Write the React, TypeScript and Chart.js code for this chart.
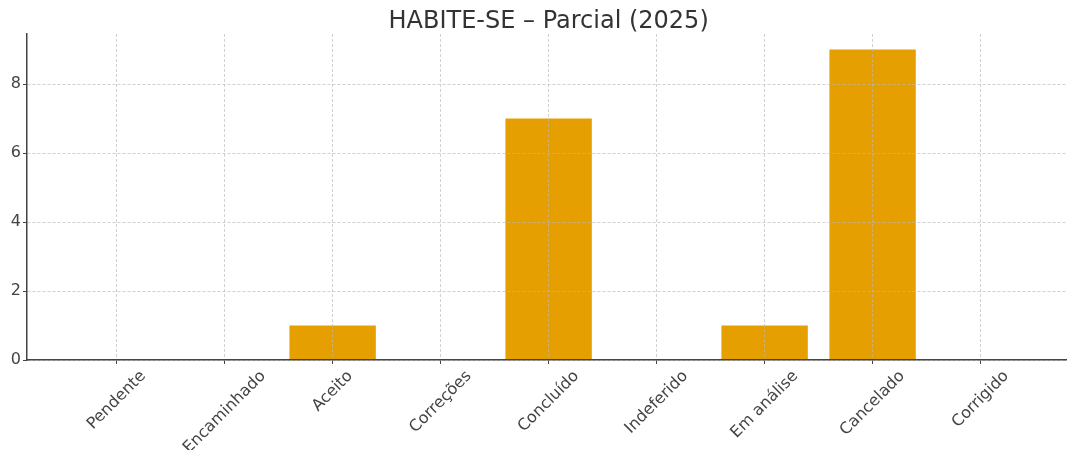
import React, { useEffect, useRef } from 'react';
import { Chart, registerables } from 'chart.js';

Chart.register(...registerables);

const TITLE = 'HABITE-SE – Parcial (2025)';
const categories = ['Pendente', 'Encaminhado', 'Aceito', 'Correções', 'Concluído', 'Indeferido', 'Em análise', 'Cancelado', 'Corrigido'];
const counts = [0, 0, 1, 0, 7, 0, 1, 9, 0];
const yTicks = [0, 2, 4, 6, 8];

const FONT = '"DejaVu Sans", sans-serif';

export default function App() {
  const ref = useRef<HTMLCanvasElement>(null);

  useEffect(() => {
    if (!ref.current) return;
    const labelPlugin = {
      id: 'mplLabels',
      afterDraw(chart: any) {
        const ctx = chart.ctx as CanvasRenderingContext2D;
        const xs = chart.scales.x;
        const bottom = chart.chartArea.bottom;
        ctx.save();
        ctx.fillStyle = '#444';
        ctx.font = `16px ${FONT}`;
        ctx.textAlign = 'center';
        ctx.textBaseline = 'middle';
        categories.forEach((c, i) => {
          const w = ctx.measureText(c).width;
          const h = 16 * 1.164;
          const bh = (w + h) * Math.SQRT1_2;
          const cx = xs.getPixelForValue(i);
          const cy = bottom + 7 + bh / 2;
          ctx.save();
          ctx.translate(cx, cy);
          ctx.rotate(-Math.PI / 4);
          ctx.fillText(c, 0, 0);
          ctx.restore();
        });
        ctx.fillStyle = '#333';
        ctx.font = `24px ${FONT}`;
        ctx.textAlign = 'center';
        ctx.textBaseline = 'alphabetic';
        ctx.fillText(TITLE, xs.getPixelForValue((categories.length - 1) / 2), 28);
        ctx.restore();
      },
    };

    const chart = new Chart(ref.current, {
      type: 'bar',
      data: {
        datasets: [
          {
            data: counts.map((v, i) => ({ x: i, y: v })),
            backgroundColor: '#E69F00',
            borderWidth: 0,
            barPercentage: 0.8,
            categoryPercentage: 1,
          },
        ],
      },
      options: {
        animation: false,
        responsive: false,
        devicePixelRatio: 1,
        layout: { padding: { top: 34, right: 0, bottom: 0, left: 0 } },
        plugins: { legend: { display: false }, title: { display: false }, tooltip: { enabled: false } },
        scales: {
          x: {
            type: 'linear',
            offset: false,
            min: -0.83,
            max: 8.8,
            afterFit: (s: any) => { s.height = 90; },
            ticks: { display: false, stepSize: 1, includeBounds: false },
            grid: {
              offset: false,
              color: 'rgba(185,185,185,0.65)',
              lineWidth: 1,
              drawTicks: true,
              tickLength: 4,
              tickColor: '#444',
              tickWidth: 1,
              z: 1,
            },
            border: { display: true, color: '#444', width: 1.5, dash: [3, 2], z: 2 },
          },
          y: {
            type: 'linear',
            min: 0,
            max: 9.45,
            afterFit: (s: any) => { s.width = 27; },
            afterBuildTicks: (s: any) => { s.ticks = yTicks.map((v) => ({ value: v })); },
            ticks: {
              stepSize: 2,
              includeBounds: false,
              color: '#444',
              padding: 2,
              font: { family: FONT, size: 16 },
            },
            grid: {
              color: 'rgba(185,185,185,0.65)',
              lineWidth: 1,
              drawTicks: true,
              tickLength: 4,
              tickColor: '#444',
              tickWidth: 1,
              z: 1,
            },
            border: { display: true, color: '#444', width: 1.5, dash: [3, 2], z: 2 },
          },
        },
      },
      plugins: [labelPlugin],
    });
    return () => chart.destroy();
  }, []);

  return (
    <div style={{ position: 'fixed', top: 0, left: 0, width: 1067, height: 450, background: '#fff' }}>
      <canvas ref={ref} width={1067} height={450} />
    </div>
  );
}
